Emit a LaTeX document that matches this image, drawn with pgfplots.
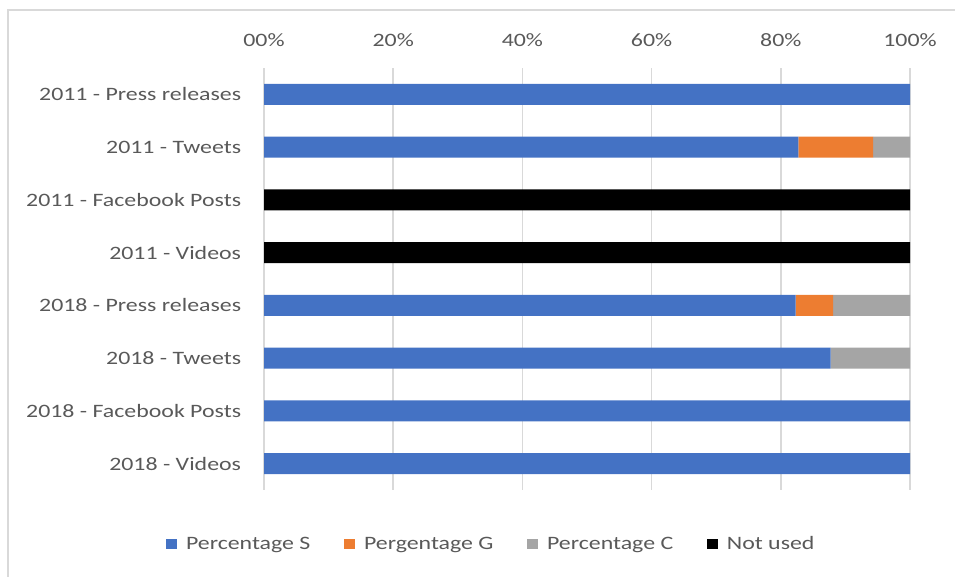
\documentclass[border=0pt]{standalone}
\usepackage{pgfplots}
\pgfplotsset{compat=1.18}
\usepackage{fontspec}
\setmainfont{Carlito}[FakeStretch=1.26]
\definecolor{cS}{HTML}{4472C4}
\definecolor{cG}{HTML}{ED7D31}
\definecolor{cC}{HTML}{A5A5A5}
\definecolor{cN}{HTML}{000000}
\definecolor{txt}{HTML}{595959}
\definecolor{grd}{HTML}{D9D9D9}

% share of each outlet type, per year (percent)
\pgfplotstableread{
idx S     G     C     N
0   100   0     0     0
1   82.7  11.6  5.7   0
2   0     0     0     100
3   0     0     0     100
4   82.3  5.8   11.9  0
5   87.7  0     12.3  0
6   100   0     0     0
7   100   0     0     0
}\shares

\begin{document}
\begin{tikzpicture}
\useasboundingbox (0pt,0pt) rectangle (716.25pt,432pt);
\draw[grd, line width=1.8pt] (6pt,-4pt) -- (6pt,424.5pt) -- (720pt,424.5pt);
\begin{axis}[
  at={(198pt,64.5pt)}, anchor=south west,
  scale only axis, width=484.5pt, height=316.5pt,
  xbar stacked, bar width=15.75pt,
  xmin=0, xmax=100, ymin=-0.5, ymax=7.5,
  y dir=reverse,
  axis line style={draw=none},
  major tick length=0pt,
  xtick={0,20,40,60,80,100},
  xticklabels={00\%,20\%,40\%,60\%,80\%,100\%},
  xticklabel pos=upper,
  xmajorgrids, grid style={grd, line width=1.1pt},
  ytick={0,...,7},
  yticklabels={2011 - Press releases,2011 - Tweets,2011 - Facebook Posts,2011 - Videos,2018 - Press releases,2018 - Tweets,2018 - Facebook Posts,2018 - Videos},
  tick label style={font=\fontsize{14.2pt}{16pt}\selectfont, text=txt, inner sep=0pt},
  xticklabel style={anchor=south, yshift=16pt},
  yticklabel style={anchor=east, xshift=-17pt},
  legend columns=4,
  legend style={at={(0.35,-0.128)}, anchor=center, draw=none, fill=none,
    font=\fontsize{14.2pt}{16pt}\selectfont, text=txt,
    nodes={inner sep=0pt},
    /tikz/every odd column/.append style={column sep=7pt},
    /tikz/every even column/.append style={column sep=25pt},
    inner sep=0pt},
  legend image code/.code={\fill[#1] (0pt,-4.1pt) rectangle (8.25pt,4.1pt);},
]
\addplot[fill=cS, draw=none] table[x=S, y=idx] {\shares};
\addplot[fill=cG, draw=none] table[x=G, y=idx] {\shares};
\addplot[fill=cC, draw=none] table[x=C, y=idx] {\shares};
\addplot[fill=cN, draw=none] table[x=N, y=idx] {\shares};
\legend{Percentage S, Pergentage G, Percentage C, Not used}
\end{axis}
\end{tikzpicture}
\end{document}
